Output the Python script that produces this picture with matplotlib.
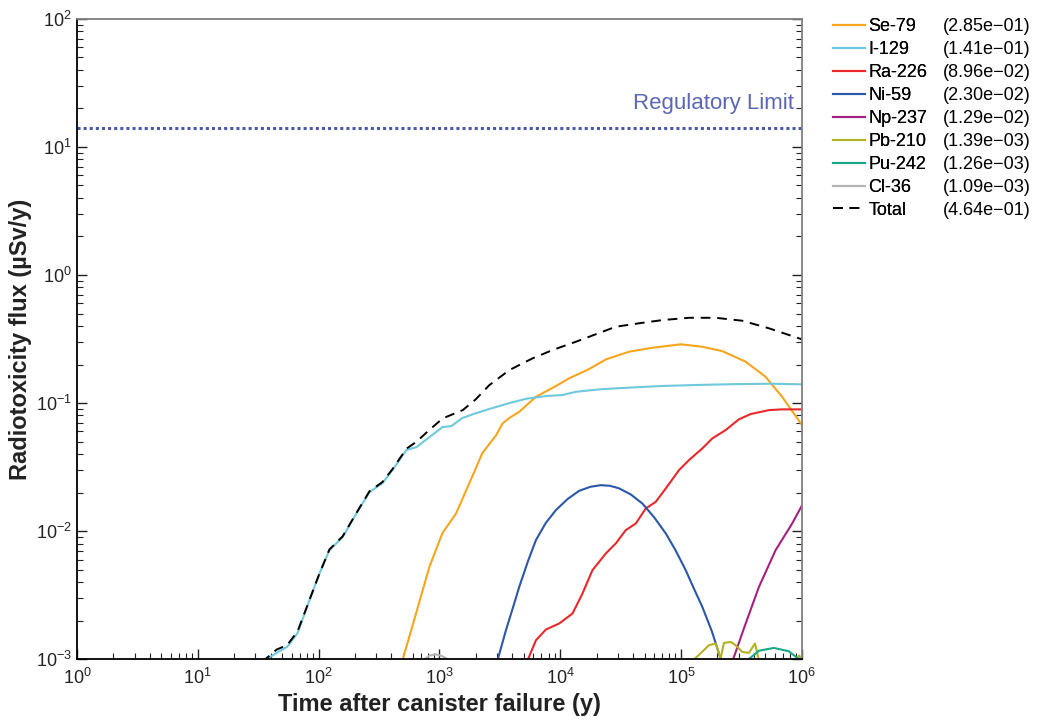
import numpy as np
import matplotlib
matplotlib.use("Agg")
import matplotlib.pyplot as plt
from matplotlib.lines import Line2D
from matplotlib.ticker import LogLocator, NullFormatter

plt.rcParams['font.family'] = ['Liberation Sans', 'DejaVu Sans']
plt.rcParams['mathtext.fontset'] = 'custom'
plt.rcParams['mathtext.rm'] = 'Liberation Sans'

# Data (time in years, flux in uSv/y)
i129_t = [34, 45, 55, 67, 84, 102, 123, 158, 206, 264, 338, 409, 533, 646, 826, 1060,
          1256, 1549, 2023, 2742, 3793, 5212, 7621, 10400, 13490, 22230, 37150, 69660,
          133000, 285100, 564900, 1000000]
i129_v = [0.00095, 0.00112, 0.00125, 0.00160, 0.00289, 0.00470, 0.00711, 0.00897, 0.0138,
          0.0202, 0.0237, 0.0300, 0.0430, 0.0453, 0.0542, 0.0649, 0.0661, 0.0764, 0.0836,
          0.0914, 0.100, 0.108, 0.1135, 0.1155, 0.1225, 0.1285, 0.132, 0.136, 0.1384,
          0.1406, 0.1416, 0.140]

se79_t = [490, 641, 826, 1059, 1374, 1770, 2265, 2944, 3335, 3793, 4581, 6295, 9204, 11860,
          17380, 23880, 37150, 57940, 99540, 149300, 219300, 342800, 501200, 687100, 1000000]
se79_v = [0.00095, 0.00228, 0.00526, 0.00964, 0.01374, 0.0237, 0.0406, 0.0560, 0.0693,
          0.0764, 0.0855, 0.1119, 0.1358, 0.156, 0.1845, 0.2193, 0.2518, 0.2704, 0.2877,
          0.2754, 0.2547, 0.2104, 0.1603, 0.1119, 0.0676]

ra226_t = [5300, 6295, 7621, 9817, 12650, 15280, 18490, 23880, 28840, 34910, 42270, 51050,
           61800, 74820, 96380, 116400, 150000, 181600, 233900, 301300, 376700, 533300,
           687100, 1000000]
ra226_v = [0.00095, 0.001406, 0.001706, 0.001901, 0.002275, 0.003258, 0.004955, 0.0067,
           0.00802, 0.01019, 0.01148, 0.01503, 0.01694, 0.02158, 0.030, 0.03589, 0.04426,
           0.05297, 0.06152, 0.07464, 0.08204, 0.0881, 0.0893, 0.0893]

ni59_t = [3000, 3556, 4100, 4581, 5400, 6295, 7600, 9204, 11500, 14350, 17800, 21680, 25800,
          30760, 38500, 47860, 60000, 74820, 90000, 109400, 128000, 150000, 180000, 212800,
          220000]
ni59_v = [0.00095, 0.001687, 0.00260, 0.003673, 0.00580, 0.00851, 0.01160, 0.01459, 0.0178,
          0.02065, 0.0222, 0.02286, 0.0226, 0.02158, 0.0193, 0.01644, 0.0128, 0.00959,
          0.0071, 0.00495, 0.00355, 0.002564, 0.00165, 0.00101, 0.00095]

np237_t = [265000, 342800, 441600, 606700, 831800, 1000000]
np237_v = [0.00095, 0.0019, 0.00367, 0.00711, 0.01148, 0.0158]

pb210_t = [122000, 170200, 193600, 212800, 226500, 257600, 283100, 321400, 364800, 409300,
           445000, 631000, 891000, 950000, 1000000]
pb210_v = [0.00095, 0.001285, 0.001327, 0.00101, 0.00134, 0.001365, 0.001285, 0.00114,
           0.00112, 0.001327, 0.00095, 0.0008, 0.00098, 0.00107, 0.00098]

pu242_t = [340000, 441600, 587500, 781600, 944100, 1000000]
pu242_v = [0.00095, 0.001164, 0.001225, 0.001153, 0.001, 0.00096]

cl36_t = [700, 752, 832, 940, 1047, 1172, 1240]
cl36_v = [0.00095, 0.001, 0.00107, 0.00109, 0.00106, 0.001, 0.00095]

total_t = [34, 45, 55, 67, 84, 102, 123, 158, 206, 264, 338, 409, 533, 646, 826, 1064,
           1560, 2000, 2588, 3793, 5902, 8630, 13490, 17380, 28840, 44980, 69980, 116400,
           193600, 321400, 533300, 1000000]
total_v = [0.00095, 0.00119, 0.00129, 0.00165, 0.0029, 0.0047, 0.0072, 0.0091, 0.0139,
           0.0205, 0.0242, 0.0305, 0.0440, 0.0499, 0.0617, 0.0759, 0.0881, 0.107, 0.138,
           0.181, 0.2234, 0.2594, 0.3013, 0.3296, 0.3945, 0.4198, 0.4446, 0.4634, 0.4634,
           0.4395, 0.3837, 0.3148]

names = ["Se-79", "I-129", "Ra-226", "Ni-59", "Np-237", "Pb-210", "Pu-242", "Cl-36", "Total"]
max_values = ["(2.85e\u221201)", "(1.41e\u221201)", "(8.96e\u221202)", "(2.30e\u221202)",
              "(1.29e\u221202)", "(1.39e\u221203)", "(1.26e\u221203)", "(1.09e\u221203)",
              "(4.64e\u221201)"]
colors = ["#f7a51d", "#6fc8dc", "#e8282b", "#2c56a8", "#a3217f", "#b3b222", "#19a883",
          "#b4b4b4", "black"]
regulatory_limit = 14
x_ticks = [1, 10, 100, 1e3, 1e4, 1e5, 1e6]
y_ticks = [1e-3, 1e-2, 1e-1, 1, 10, 100]

series = [(se79_t, se79_v), (i129_t, i129_v), (ra226_t, ra226_v), (ni59_t, ni59_v),
          (np237_t, np237_v), (pb210_t, pb210_v), (pu242_t, pu242_v), (cl36_t, cl36_v)]

fig = plt.figure(figsize=(10.4, 7.26), dpi=100)
ax = fig.add_axes([0.074, 0.092, 0.697, 0.882])

ax.axhline(regulatory_limit, color="#4b59ad", linestyle=(0, (1, 1)), linewidth=2.2)
ax.text(8.6e5, regulatory_limit * 1.3, "Regulatory Limit", color="#5b67b3",
        fontsize=16, ha="right", va="bottom")

handles = []
for (t, v), name, c in zip(series, names[:-1], colors[:-1]):
    line, = ax.plot(t, v, color=c, linewidth=1.5, label=name)
    handles.append(line)
tot, = ax.plot(total_t, total_v, color="black", linewidth=1.4, dashes=(5, 3.5), label="Total")
handles.append(tot)

ax.set_xscale("log")
ax.set_yscale("log")
ax.set_xticks(x_ticks)
ax.set_yticks(y_ticks)
ax.xaxis.set_minor_locator(LogLocator(base=10, subs=np.arange(2, 10), numticks=20))
ax.yaxis.set_minor_locator(LogLocator(base=10, subs=np.arange(2, 10), numticks=20))
ax.xaxis.set_minor_formatter(NullFormatter())
ax.yaxis.set_minor_formatter(NullFormatter())
ax.set_xlim(1, 1e6)
ax.set_ylim(1e-3, 1e2)
ax.tick_params(which="both", direction="in", right=True, top=False, labelsize=13,
               colors="#222222", labelcolor="#222222")
ax.tick_params(which="major", length=7, width=1)
ax.tick_params(which="minor", length=4, width=0.8)
ax.tick_params(axis="x", pad=6)
for s in ["left", "bottom"]:
    ax.spines[s].set_color("black")
    ax.spines[s].set_linewidth(1.3)
for s in ["right", "top"]:
    ax.spines[s].set_color("#808080")
    ax.spines[s].set_linewidth(1.3)

ax.set_xlabel("Time after canister failure (y)", fontsize=17, fontweight="bold",
              color="#222222", labelpad=4)
ax.set_ylabel("Radiotoxicity flux (\u00b5Sv/y)", fontsize=17, fontweight="bold",
              color="#222222", labelpad=3)

leg1 = fig.legend(handles, names, loc="upper left", bbox_to_anchor=(0.801, 0.975),
                  frameon=False, borderpad=0, borderaxespad=0, handlelength=1.75,
                  handletextpad=0.22, labelspacing=0.33, fontsize=13)
blank = [Line2D([], [], linestyle="none") for _ in names]
leg2 = fig.legend(blank, max_values, loc="upper left", bbox_to_anchor=(0.907, 0.975),
                  frameon=False, borderpad=0, borderaxespad=0, handlelength=0,
                  handletextpad=0, labelspacing=0.33, fontsize=13)
fig.add_artist(leg1)

fig.savefig("out.png", dpi=100)
